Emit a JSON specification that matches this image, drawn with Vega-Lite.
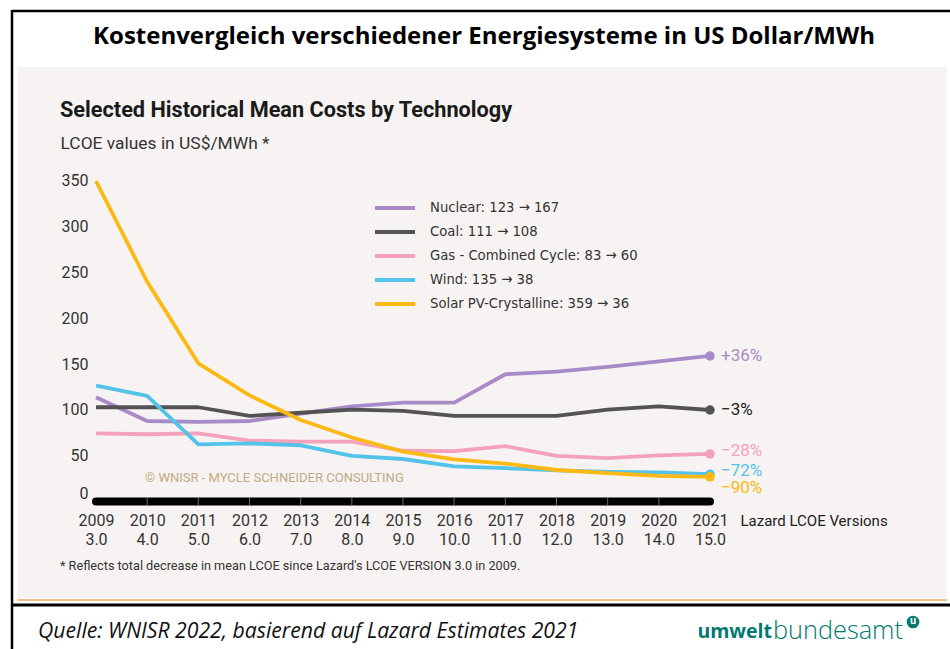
{
  "$schema": "https://vega.github.io/schema/vega-lite/v6.json",
  "width": 929,
  "height": 531,
  "autosize": {"type": "none"},
  "padding": {"left": 18, "top": 67, "right": 3, "bottom": 51},
  "background": "#ffffff",
  "config": {"view": {"fill": "#f7f3f2", "stroke": null}, "font": "Roboto"},
  "datasets": {
    "costs": [
      {"year": 2009, "tech": "Nuclear: 123 → 167", "value": 114},
      {"year": 2010, "tech": "Nuclear: 123 → 167", "value": 88},
      {"year": 2011, "tech": "Nuclear: 123 → 167", "value": 87},
      {"year": 2012, "tech": "Nuclear: 123 → 167", "value": 88},
      {"year": 2013, "tech": "Nuclear: 123 → 167", "value": 96},
      {"year": 2014, "tech": "Nuclear: 123 → 167", "value": 104},
      {"year": 2015, "tech": "Nuclear: 123 → 167", "value": 108},
      {"year": 2016, "tech": "Nuclear: 123 → 167", "value": 108},
      {"year": 2017, "tech": "Nuclear: 123 → 167", "value": 139},
      {"year": 2018, "tech": "Nuclear: 123 → 167", "value": 142},
      {"year": 2019, "tech": "Nuclear: 123 → 167", "value": 147},
      {"year": 2020, "tech": "Nuclear: 123 → 167", "value": 153},
      {"year": 2021, "tech": "Nuclear: 123 → 167", "value": 159},
      {"year": 2009, "tech": "Coal: 111 → 108", "value": 103},
      {"year": 2010, "tech": "Coal: 111 → 108", "value": 103},
      {"year": 2011, "tech": "Coal: 111 → 108", "value": 103},
      {"year": 2012, "tech": "Coal: 111 → 108", "value": 93.5},
      {"year": 2013, "tech": "Coal: 111 → 108", "value": 97},
      {"year": 2014, "tech": "Coal: 111 → 108", "value": 100.5},
      {"year": 2015, "tech": "Coal: 111 → 108", "value": 99},
      {"year": 2016, "tech": "Coal: 111 → 108", "value": 93.5},
      {"year": 2017, "tech": "Coal: 111 → 108", "value": 93.5},
      {"year": 2018, "tech": "Coal: 111 → 108", "value": 93.5},
      {"year": 2019, "tech": "Coal: 111 → 108", "value": 100.5},
      {"year": 2020, "tech": "Coal: 111 → 108", "value": 104},
      {"year": 2021, "tech": "Coal: 111 → 108", "value": 100},
      {"year": 2009, "tech": "Gas - Combined Cycle: 83 → 60", "value": 74.5},
      {"year": 2010, "tech": "Gas - Combined Cycle: 83 → 60", "value": 73.5},
      {"year": 2011, "tech": "Gas - Combined Cycle: 83 → 60", "value": 74.5},
      {"year": 2012, "tech": "Gas - Combined Cycle: 83 → 60", "value": 66.5},
      {"year": 2013, "tech": "Gas - Combined Cycle: 83 → 60", "value": 65.5},
      {"year": 2014, "tech": "Gas - Combined Cycle: 83 → 60", "value": 65.5},
      {"year": 2015, "tech": "Gas - Combined Cycle: 83 → 60", "value": 55.5},
      {"year": 2016, "tech": "Gas - Combined Cycle: 83 → 60", "value": 55},
      {"year": 2017, "tech": "Gas - Combined Cycle: 83 → 60", "value": 60.5},
      {"year": 2018, "tech": "Gas - Combined Cycle: 83 → 60", "value": 50},
      {"year": 2019, "tech": "Gas - Combined Cycle: 83 → 60", "value": 47.5},
      {"year": 2020, "tech": "Gas - Combined Cycle: 83 → 60", "value": 50.5},
      {"year": 2021, "tech": "Gas - Combined Cycle: 83 → 60", "value": 52},
      {"year": 2009, "tech": "Wind: 135 → 38", "value": 126.5},
      {"year": 2010, "tech": "Wind: 135 → 38", "value": 115.5},
      {"year": 2011, "tech": "Wind: 135 → 38", "value": 62.5},
      {"year": 2012, "tech": "Wind: 135 → 38", "value": 63.5},
      {"year": 2013, "tech": "Wind: 135 → 38", "value": 61.5},
      {"year": 2014, "tech": "Wind: 135 → 38", "value": 50},
      {"year": 2015, "tech": "Wind: 135 → 38", "value": 46.5},
      {"year": 2016, "tech": "Wind: 135 → 38", "value": 38.5},
      {"year": 2017, "tech": "Wind: 135 → 38", "value": 36.5},
      {"year": 2018, "tech": "Wind: 135 → 38", "value": 34},
      {"year": 2019, "tech": "Wind: 135 → 38", "value": 32.5},
      {"year": 2020, "tech": "Wind: 135 → 38", "value": 32},
      {"year": 2021, "tech": "Wind: 135 → 38", "value": 30},
      {"year": 2009, "tech": "Solar PV-Crystalline: 359 → 36", "value": 350},
      {"year": 2010, "tech": "Solar PV-Crystalline: 359 → 36", "value": 240},
      {"year": 2011, "tech": "Solar PV-Crystalline: 359 → 36", "value": 151},
      {"year": 2012, "tech": "Solar PV-Crystalline: 359 → 36", "value": 116},
      {"year": 2013, "tech": "Solar PV-Crystalline: 359 → 36", "value": 89},
      {"year": 2014, "tech": "Solar PV-Crystalline: 359 → 36", "value": 70},
      {"year": 2015, "tech": "Solar PV-Crystalline: 359 → 36", "value": 54.5},
      {"year": 2016, "tech": "Solar PV-Crystalline: 359 → 36", "value": 46},
      {"year": 2017, "tech": "Solar PV-Crystalline: 359 → 36", "value": 41.5},
      {"year": 2018, "tech": "Solar PV-Crystalline: 359 → 36", "value": 34.5},
      {"year": 2019, "tech": "Solar PV-Crystalline: 359 → 36", "value": 31},
      {"year": 2020, "tech": "Solar PV-Crystalline: 359 → 36", "value": 28},
      {"year": 2021, "tech": "Solar PV-Crystalline: 359 → 36", "value": 27}
    ],
    "labels": [
      {"tech": "Nuclear: 123 → 167", "change": "+36%"},
      {"tech": "Coal: 111 → 108", "change": "−3%"},
      {"tech": "Gas - Combined Cycle: 83 → 60", "change": "−28%"},
      {"tech": "Wind: 135 → 38", "change": "−72%"},
      {"tech": "Solar PV-Crystalline: 359 → 36", "change": "−90%"}
    ],
    "separators": [
      {"year": 2010}, {"year": 2011}, {"year": 2012}, {"year": 2013}, {"year": 2014},
      {"year": 2015}, {"year": 2016}, {"year": 2017}, {"year": 2018}, {"year": 2019}, {"year": 2020}
    ]
  },
  "data": {"name": "costs"},
  "layer": [
    {
      "data": {"values": [{}]},
      "mark": {"type": "rule", "color": "#000000", "strokeWidth": 2.5},
      "encoding": {"x": {"value": -6}, "x2": {"value": 932}, "y": {"value": -56}}
    },
    {
      "data": {"values": [{}]},
      "mark": {"type": "rule", "color": "#000000", "strokeWidth": 2.5},
      "encoding": {"x": {"value": -6}, "y": {"value": -57}, "y2": {"value": 582}}
    },
    {
      "data": {"values": [{}]},
      "mark": {"type": "rule", "color": "#f2a65a", "strokeWidth": 1.5},
      "encoding": {"x": {"value": 0}, "x2": {"value": 929}, "y": {"value": 533}}
    },
    {
      "data": {"values": [{}]},
      "mark": {"type": "rule", "color": "#000000", "strokeWidth": 3},
      "encoding": {"x": {"value": -6}, "x2": {"value": 932}, "y": {"value": 538}}
    },
    {
      "data": {"values": [{"t": "Kostenvergleich verschiedener Energiesysteme in US Dollar/MWh"}]},
      "mark": {"type": "text", "align": "center", "baseline": "middle", "font": "Open Sans", "fontSize": 24, "fontWeight": "bold", "color": "#000000"},
      "encoding": {"text": {"field": "t"}, "x": {"value": 466}, "y": {"value": -30}}
    },
    {
      "data": {"values": [{}]},
      "mark": {"type": "rule", "color": "#000000", "strokeWidth": 8, "strokeCap": "round"},
      "encoding": {
        "x": {"datum": 2009, "type": "quantitative"},
        "x2": {"datum": 2021},
        "y": {"datum": 0, "type": "quantitative"}
      }
    },
    {
      "data": {"name": "separators"},
      "mark": {"type": "tick", "orient": "vertical", "color": "#9a9a9a", "thickness": 1, "size": 8},
      "encoding": {
        "x": {"field": "year", "type": "quantitative"},
        "y": {"datum": 0, "type": "quantitative"}
      }
    },
    {
      "mark": {"type": "line", "strokeWidth": 3.8, "strokeJoin": "round"},
      "encoding": {
        "x": {
          "field": "year", "type": "quantitative",
          "scale": {"domain": [2007.4756, 2025.632], "nice": false, "zero": false},
          "axis": {
            "values": [2009, 2010, 2011, 2012, 2013, 2014, 2015, 2016, 2017, 2018, 2019, 2020, 2021],
            "labelExpr": "[format(datum.value, 'd'), format(datum.value - 2006, '.1f')]",
            "offset": -93, "domain": false, "ticks": false, "tickSize": 0, "grid": false,
            "labelPadding": 7, "labelFontSize": 16, "labelColor": "#333333", "labelLineHeight": 19,
            "labelBaseline": "top", "labelFlush": false, "labelOverlap": false,
            "title": "Lazard LCOE Versions", "titleX": 722, "titleY": 15, "titleAlign": "left",
            "titleAnchor": "start", "titleBaseline": "middle", "titleFontSize": 15,
            "titleFontWeight": "normal", "titleColor": "#222222"
          }
        },
        "y": {
          "field": "value", "type": "quantitative",
          "scale": {"domain": [-105.24, 474.45], "nice": false, "zero": false},
          "axis": {
            "values": [0, 50, 100, 150, 200, 250, 300, 350],
            "offset": -78, "domain": false, "ticks": false, "tickSize": 0, "grid": false,
            "labelPadding": 8, "labelFontSize": 16, "labelColor": "#333333",
            "labelBaseline": {"condition": {"test": "datum.value === 0", "value": "bottom"}, "value": "middle"},
            "title": "LCOE values in US$/MWh *", "titleAngle": 0, "titleX": -36, "titleY": 76,
            "titleAlign": "left", "titleAnchor": "start", "titleBaseline": "middle",
            "titleFontSize": 17.4, "titleFontWeight": "normal", "titleColor": "#333333"
          }
        },
        "color": {
          "field": "tech", "type": "nominal",
          "scale": {
            "domain": ["Nuclear: 123 → 167", "Coal: 111 → 108", "Gas - Combined Cycle: 83 → 60", "Wind: 135 → 38", "Solar PV-Crystalline: 359 → 36"],
            "range": ["#a68bc7", "#535353", "#f4a2bc", "#54c3ea", "#fdb913"]
          },
          "legend": {
            "orient": "none", "legendX": 355, "legendY": 129, "title": null,
            "symbolType": "stroke", "symbolSize": 1600, "symbolStrokeWidth": 4,
            "clipHeight": 24, "labelFontSize": 14.7, "labelColor": "#333333", "labelFont": "DejaVu Sans Condensed, DejaVu Sans",
            "labelOffset": 13, "padding": 0, "rowPadding": 0, "labelLimit": 400
          }
        },
        "order": {"field": "year", "type": "quantitative"}
      }
    },
    {
      "transform": [{"filter": "datum.year === 2021"}],
      "mark": {"type": "circle", "size": 90, "opacity": 1},
      "encoding": {
        "x": {"field": "year", "type": "quantitative"},
        "y": {"field": "value", "type": "quantitative"},
        "color": {"field": "tech", "type": "nominal", "legend": null}
      }
    },
    {
      "transform": [
        {"filter": "datum.year === 2021 && (datum.value > 90)"},
        {"lookup": "tech", "from": {"data": {"name": "labels"}, "key": "tech", "fields": ["change"]}}
      ],
      "mark": {"type": "text", "align": "left", "baseline": "middle", "dx": 11, "dy": 0, "fontSize": 17},
      "encoding": {
        "x": {"field": "year", "type": "quantitative"},
        "y": {"field": "value", "type": "quantitative"},
        "text": {"field": "change"},
        "color": {
          "condition": {"test": "datum.tech === 'Coal: 111 → 108'", "value": "#1a1a1a"},
          "field": "tech", "type": "nominal", "legend": null
        }
      }
    },
    {
      "transform": [
        {"filter": "datum.year === 2021 && datum.value < 90 && datum.value > 29"},
        {"lookup": "tech", "from": {"data": {"name": "labels"}, "key": "tech", "fields": ["change"]}}
      ],
      "mark": {"type": "text", "align": "left", "baseline": "middle", "dx": 11, "dy": -3, "fontSize": 17},
      "encoding": {
        "x": {"field": "year", "type": "quantitative"},
        "y": {"field": "value", "type": "quantitative"},
        "text": {"field": "change"},
        "color": {"field": "tech", "type": "nominal", "legend": null}
      }
    },
    {
      "transform": [
        {"filter": "datum.year === 2021 && datum.tech === 'Solar PV-Crystalline: 359 → 36'"},
        {"lookup": "tech", "from": {"data": {"name": "labels"}, "key": "tech", "fields": ["change"]}}
      ],
      "mark": {"type": "text", "align": "left", "baseline": "middle", "dx": 11, "dy": 11, "fontSize": 17},
      "encoding": {
        "x": {"field": "year", "type": "quantitative"},
        "y": {"field": "value", "type": "quantitative"},
        "text": {"field": "change"},
        "color": {"field": "tech", "type": "nominal", "legend": null}
      }
    },
    {
      "data": {"values": [{"t": "Selected Historical Mean Costs by Technology"}]},
      "mark": {"type": "text", "align": "left", "baseline": "middle", "font": "Roboto", "fontSize": 21.7, "fontWeight": "bold", "color": "#1a1a1a"},
      "encoding": {"text": {"field": "t"}, "x": {"value": 42}, "y": {"value": 43}}
    },
    {
      "data": {"values": [{"t": "© WNISR - MYCLE SCHNEIDER CONSULTING"}]},
      "mark": {"type": "text", "align": "left", "baseline": "middle", "fontSize": 13, "color": "#c2ab83"},
      "encoding": {"text": {"field": "t"}, "x": {"value": 127}, "y": {"value": 411}}
    },
    {
      "data": {"values": [{"t": "* Reflects total decrease in mean LCOE since Lazard's  LCOE VERSION 3.0 in 2009."}]},
      "mark": {"type": "text", "align": "left", "baseline": "middle", "fontSize": 12.7, "color": "#333333"},
      "encoding": {"text": {"field": "t"}, "x": {"value": 42}, "y": {"value": 499}}
    },
    {
      "data": {"values": [{"t": "Quelle: WNISR 2022, basierend auf Lazard Estimates 2021"}]},
      "mark": {"type": "text", "align": "left", "baseline": "middle", "font": "Open Sans", "fontSize": 21.2, "fontStyle": "italic", "color": "#111111"},
      "encoding": {"text": {"field": "t"}, "x": {"value": 20}, "y": {"value": 565}}
    },
    {
      "data": {"values": [{"t": "umwelt"}]},
      "mark": {"type": "text", "align": "right", "baseline": "middle", "font": "Open Sans", "fontSize": 19.5, "fontWeight": "bold", "color": "#00796e"},
      "encoding": {"text": {"field": "t"}, "x": {"value": 754}, "y": {"value": 565}}
    },
    {
      "data": {"values": [{"t": "bundesamt"}]},
      "mark": {"type": "text", "align": "left", "baseline": "middle", "font": "Open Sans", "fontSize": 25.3, "fontWeight": 300, "color": "#00796e"},
      "encoding": {"text": {"field": "t"}, "x": {"value": 755}, "y": {"value": 564}}
    },
    {
      "data": {"values": [{}]},
      "mark": {"type": "circle", "size": 160, "opacity": 1, "color": "#00796e"},
      "encoding": {"x": {"value": 895}, "y": {"value": 555}}
    },
    {
      "data": {"values": [{"t": "u"}]},
      "mark": {"type": "text", "align": "center", "baseline": "middle", "fontSize": 11, "fontWeight": "bold", "color": "#ffffff"},
      "encoding": {"text": {"field": "t"}, "x": {"value": 895}, "y": {"value": 554}}
    }
  ]
}
